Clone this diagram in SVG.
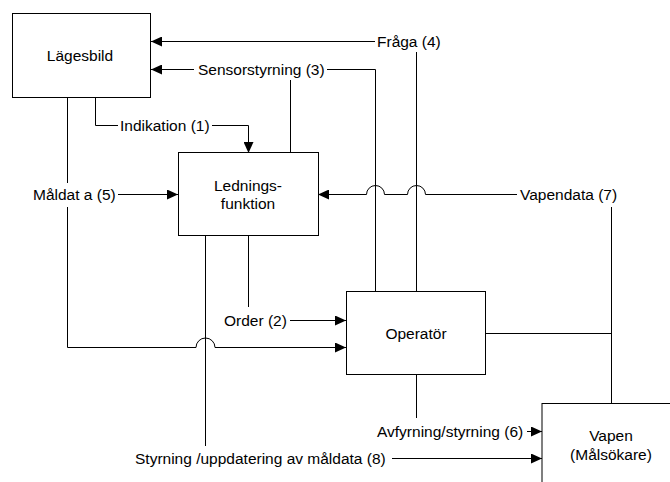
<svg xmlns="http://www.w3.org/2000/svg" width="670" height="482" viewBox="0 0 670 482">
  <style>
    .box { fill: #fff; stroke: #000; stroke-width: 1; }
    .wire { fill: none; stroke: #000; stroke-width: 1; }
    text { font-family: "Liberation Sans", Arial, sans-serif; font-size: 15.5px; fill: #000; }
    .mid { text-anchor: middle; }
  </style>
  <defs>
    <marker id="arrow" markerUnits="userSpaceOnUse" markerWidth="11" markerHeight="10" refX="11" refY="5" orient="auto">
      <path d="M0,0 L11,5 L0,10 Z" fill="#000"/>
    </marker>
  </defs>

  <!-- connectors -->
  <g id="connectors">
    <!-- Fråga (4): Operatör -> Lägesbild -->
    <path class="wire" d="M416.5,292 V52"/>
    <path class="wire" d="M375,41.5 H151" marker-end="url(#arrow)"/>
    <!-- Sensorstyrning (3): Operatör / Ledningsfunktion -> Lägesbild -->
    <path class="wire" d="M375.5,292 V69.5 H327"/>
    <path class="wire" d="M290.5,153 V80"/>
    <path class="wire" d="M194,69.5 H151" marker-end="url(#arrow)"/>
    <!-- Indikation (1): Lägesbild -> Ledningsfunktion -->
    <path class="wire" d="M95.5,97 V125.5 H118"/>
    <path class="wire" d="M212,125.5 H248.5 V153" marker-end="url(#arrow)"/>
    <!-- Måldat a (5): Lägesbild -> Ledningsfunktion / Operatör -->
    <path class="wire" d="M67.5,97 V183"/>
    <path class="wire" d="M118,194.5 H178" marker-end="url(#arrow)"/>
    <path class="wire" d="M67.5,207 V347.5 H196 A9.5,9.5 0 0 1 215,347.5 H346" marker-end="url(#arrow)"/>
    <!-- Vapendata (7): Vapen / Operatör -> Ledningsfunktion -->
    <path class="wire" d="M611.5,403 V207"/>
    <path class="wire" d="M486,333.5 H611.5"/>
    <path class="wire" d="M517,194.5 H425.5 A9,9 0 0 0 407.5,194.5 H384.5 A9,9 0 0 0 366.5,194.5 H318" marker-end="url(#arrow)"/>
    <!-- Order (2): Ledningsfunktion -> Operatör -->
    <path class="wire" d="M248.5,236 V307"/>
    <path class="wire" d="M290,320.5 H346" marker-end="url(#arrow)"/>
    <!-- Styrning /uppdatering av måldata (8): Ledningsfunktion -> Vapen -->
    <path class="wire" d="M205.5,236 V446"/>
    <path class="wire" d="M392,458.5 H542" marker-end="url(#arrow)"/>
    <!-- Avfyrning/styrning (6): Operatör -> Vapen -->
    <path class="wire" d="M416.5,375 V418"/>
    <path class="wire" d="M527,431.5 H542" marker-end="url(#arrow)"/>
  </g>

  <!-- connector labels -->
  <g id="labels">
    <text x="377" y="47">Fråga (4)</text>
    <text x="198" y="75">Sensorstyrning (3)</text>
    <text x="120" y="131">Indikation (1)</text>
    <text x="33" y="200">Måldat a (5)</text>
    <text x="520" y="200">Vapendata (7)</text>
    <text x="224" y="326">Order (2)</text>
    <text x="377" y="437">Avfyrning/styrning (6)</text>
    <text x="135" y="464">Styrning /uppdatering av måldata (8)</text>
  </g>

  <!-- nodes -->
  <g id="lagesbild">
    <rect class="box" x="12.5" y="13.5" width="138" height="84"/>
    <text class="mid" x="80" y="60.5">Lägesbild</text>
  </g>
  <g id="ledningsfunktion">
    <rect class="box" x="178.5" y="152.5" width="140" height="83"/>
    <text class="mid" x="248" y="190.5">Lednings-</text>
    <text class="mid" x="248" y="208.5">funktion</text>
  </g>
  <g id="operator">
    <rect class="box" x="346.5" y="291.5" width="139" height="83"/>
    <text class="mid" x="416" y="338.5">Operatör</text>
  </g>
  <g id="vapen">
    <rect class="box" x="542" y="403.5" width="140" height="85"/>
    <text class="mid" x="611" y="440.5">Vapen</text>
    <text class="mid" x="611" y="459.5">(Målsökare)</text>
  </g>
</svg>
